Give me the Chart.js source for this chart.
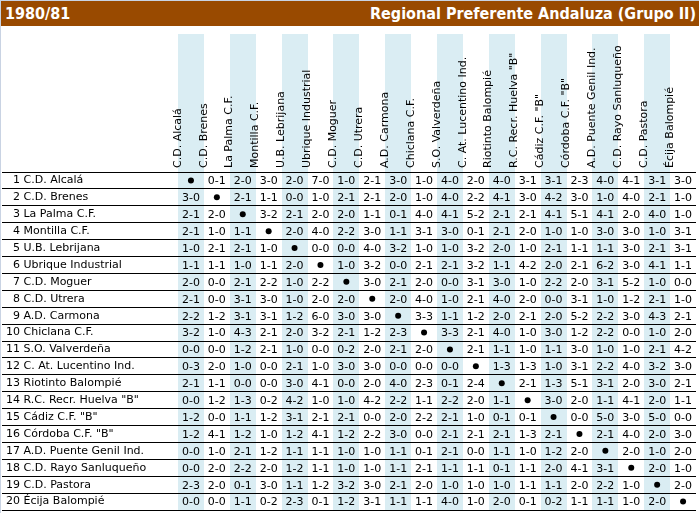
<!DOCTYPE html>
<html lang="es">
<head>
    <meta charset="UTF-8">
    <title>1980/81 Regional Preferente Andaluza (Grupo II)</title>
    <script src="https://cdn.jsdelivr.net/npm/chart.js@4.4.3/dist/chart.umd.min.js"></script>
    <style>
        html, body { margin: 0; padding: 0; background: #fff; }
        .page {
            width: 699px; height: 513px; box-sizing: border-box;
            border-top: 1px solid #c9d3e3; border-left: 1px solid #c9d3e3;
            overflow: hidden;
        }
        .bar {
            height: 25px; background: #994a00; color: #fff;
            font: bold 16px 'DejaVu Sans Condensed', 'DejaVu Sans', sans-serif;
            font-stretch: condensed;
            display: flex; justify-content: space-between; align-items: center;
            padding: 0 3px 0 4px;
        }
        canvas { display: block; }
    </style>
</head>
<body>
<div class="page">
    <div class="bar"><span>1980/81</span><span>Regional Preferente Andaluza (Grupo II)</span></div>
    <canvas id="crosstable" width="698" height="487"></canvas>
</div>

<script>
    // teams, same order for rows (home) and columns (away)
    const teams = [
        'C.D. Alcalá', 'C.D. Brenes', 'La Palma C.F.', 'Montilla C.F.', 'U.B. Lebrijana',
        'Ubrique Industrial', 'C.D. Moguer', 'C.D. Utrera', 'A.D. Carmona', 'Chiclana C.F.',
        'S.O. Valverdeña', 'C. At. Lucentino Ind.', 'Riotinto Balompié', 'R.C. Recr. Huelva "B"', 'Cádiz C.F. "B"',
        'Córdoba C.F. "B"', 'A.D. Puente Genil Ind.', 'C.D. Rayo Sanluqueño', 'C.D. Pastora', 'Écija Balompié'
    ];

    // results[home][away], null = same team
    const results = [
        [null,'0-1','2-0','3-0','2-0','7-0','1-0','2-1','3-0','1-0','4-0','2-0','4-0','3-1','3-1','2-3','4-0','4-1','3-1','3-0'],
        ['3-0',null,'2-1','1-1','0-0','1-0','2-1','2-1','2-0','1-0','4-0','2-2','4-1','3-0','4-2','3-0','1-0','4-0','2-1','1-0'],
        ['2-1','2-0',null,'3-2','2-1','2-0','2-0','1-1','0-1','4-0','4-1','5-2','2-1','2-1','4-1','5-1','4-1','2-0','4-0','1-0'],
        ['2-1','1-0','1-1',null,'2-0','4-0','2-2','3-0','1-1','3-1','3-0','0-1','2-1','2-0','1-0','1-0','3-0','3-0','1-0','3-1'],
        ['1-0','2-1','2-1','1-0',null,'0-0','0-0','4-0','3-2','1-0','1-0','3-2','2-0','1-0','2-1','1-1','1-1','3-0','2-1','3-1'],
        ['1-1','1-1','1-0','1-1','2-0',null,'1-0','3-2','0-0','2-1','2-1','3-2','1-1','4-2','2-0','2-1','6-2','3-0','4-1','1-1'],
        ['2-0','0-0','2-1','2-2','1-0','2-2',null,'3-0','2-1','2-0','0-0','3-1','3-0','1-0','2-2','2-0','3-1','5-2','1-0','0-0'],
        ['2-1','0-0','3-1','3-0','1-0','2-0','2-0',null,'2-0','4-0','1-0','2-1','4-0','2-0','0-0','3-1','1-0','1-2','2-1','1-0'],
        ['2-2','1-2','3-1','3-1','1-2','6-0','3-0','3-0',null,'3-3','1-1','1-2','2-0','2-1','2-0','5-2','2-2','3-0','4-3','2-1'],
        ['3-2','1-0','4-3','2-1','2-0','3-2','2-1','1-2','2-3',null,'3-3','2-1','4-0','1-0','3-0','1-2','2-2','0-0','1-0','2-0'],
        ['0-0','0-0','1-2','2-1','1-0','0-0','0-2','2-0','2-1','2-0',null,'2-1','1-1','1-0','1-1','3-0','1-0','1-0','2-1','4-2'],
        ['0-3','2-0','1-0','0-0','2-1','1-0','3-0','3-0','0-0','0-0','0-0',null,'1-3','1-3','1-0','3-1','2-2','4-0','3-2','3-0'],
        ['2-1','1-1','0-0','0-0','3-0','4-1','0-0','2-0','4-0','2-3','0-1','2-4',null,'2-1','1-3','5-1','3-1','2-0','3-0','2-1'],
        ['0-0','1-2','1-3','0-2','4-2','1-0','1-0','4-2','2-2','1-1','2-2','2-0','1-1',null,'3-0','2-0','1-1','4-1','2-0','1-1'],
        ['1-2','0-0','1-1','1-2','3-1','2-1','2-1','0-0','2-0','2-2','2-1','1-0','0-1','0-1',null,'0-0','5-0','3-0','5-0','0-0'],
        ['1-2','4-1','1-2','1-0','1-2','4-1','1-2','2-2','3-0','0-0','2-1','2-1','2-1','1-3','2-1',null,'2-1','4-0','2-0','3-0'],
        ['0-0','1-0','2-1','1-2','1-1','1-1','1-0','1-0','1-1','0-1','2-1','0-0','1-1','1-0','1-2','2-0',null,'2-0','1-0','2-0'],
        ['0-0','2-0','2-2','2-0','1-2','1-1','1-0','1-0','1-1','2-1','1-1','1-1','0-1','1-1','2-0','4-1','3-1',null,'2-0','1-0'],
        ['2-3','2-0','0-1','3-0','1-1','1-2','3-2','3-0','2-1','2-0','1-0','1-0','1-0','1-1','1-1','2-0','2-2','1-0',null,'2-0'],
        ['0-0','0-0','1-1','0-2','2-3','0-1','1-2','3-1','1-1','1-1','4-0','1-0','2-0','0-1','0-2','1-1','1-1','1-0','2-0',null]
    ];

    const FONT = { family: "'DejaVu Sans', Verdana, sans-serif", size: 11 };
    const SHADE = '#daedf3';

    // one point per played match, the score goes on top as text
    const scorePoints = [];
    results.forEach((row, i) => row.forEach((s, j) => {
        if (s) scorePoints.push({ x: teams[j], y: teams[i], score: s });
    }));
    const diagonal = teams.map(t => ({ x: t, y: t }));

    // light blue band behind every other column, up through the header
    const columnBands = {
        id: 'columnBands',
        beforeDraw(chart) {
            const xs = chart.scales.x;
            const w = xs.width / teams.length;
            const ctx = chart.ctx;
            ctx.save();
            ctx.fillStyle = SHADE;
            for (let i = 0; i < teams.length; i += 2) {
                const cx = xs.getPixelForValue(i);
                ctx.fillRect(Math.round(cx - w / 2), 8, Math.round(w), chart.chartArea.bottom - 8);
            }
            ctx.restore();
        }
    };

    const scoreText = {
        id: 'scoreText',
        afterDatasetsDraw(chart) {
            const meta = chart.getDatasetMeta(0);
            const ctx = chart.ctx;
            ctx.save();
            ctx.font = `${FONT.size}px ${FONT.family}`;
            ctx.fillStyle = '#000';
            ctx.textAlign = 'center';
            ctx.textBaseline = 'middle';
            meta.data.forEach((pt, k) => {
                ctx.fillText(scorePoints[k].score, pt.x, pt.y + 1);
            });
            ctx.restore();
        }
    };

    new Chart(document.getElementById('crosstable'), {
        type: 'scatter',
        data: {
            datasets: [
                { label: 'scores', data: scorePoints, pointRadius: 0, pointHoverRadius: 0 },
                { label: 'same team', data: diagonal, pointRadius: 3, pointHoverRadius: 3,
                  backgroundColor: '#000', borderWidth: 0 }
            ]
        },
        options: {
            responsive: false,
            animation: false,
            events: [],
            layout: { padding: { left: 5, right: 1, top: 0, bottom: 1 } },
            plugins: { legend: { display: false }, tooltip: { enabled: false } },
            scales: {
                x: {
                    type: 'category',
                    labels: teams,
                    position: 'top',
                    offset: true,
                    grid: { display: false, drawTicks: false, offset: true },
                    border: { display: false },
                    ticks: {
                        autoSkip: false, minRotation: 90, maxRotation: 90,
                        padding: 4, color: '#000', font: FONT
                    },
                    afterFit(s) { s.height = 146; s.paddingLeft = 0; s.paddingRight = 0; }
                },
                y: {
                    type: 'category',
                    labels: teams,
                    offset: true,
                    grid: { color: '#000', lineWidth: 1, offset: true, tickLength: 176, tickColor: '#000' },
                    border: { display: false },
                    ticks: {
                        autoSkip: false, crossAlign: 'far', color: '#000', font: FONT, padding: 0,
                        callback: (v, i) => (i < 9 ? '\u2007' : '') + (i + 1) + ' ' + teams[i]
                    },
                    afterFit(s) { s.width = 172; s.paddingTop = 0; s.paddingBottom = 0; }
                }
            }
        },
        plugins: [columnBands, scoreText]
    });
</script>
</body>
</html>
